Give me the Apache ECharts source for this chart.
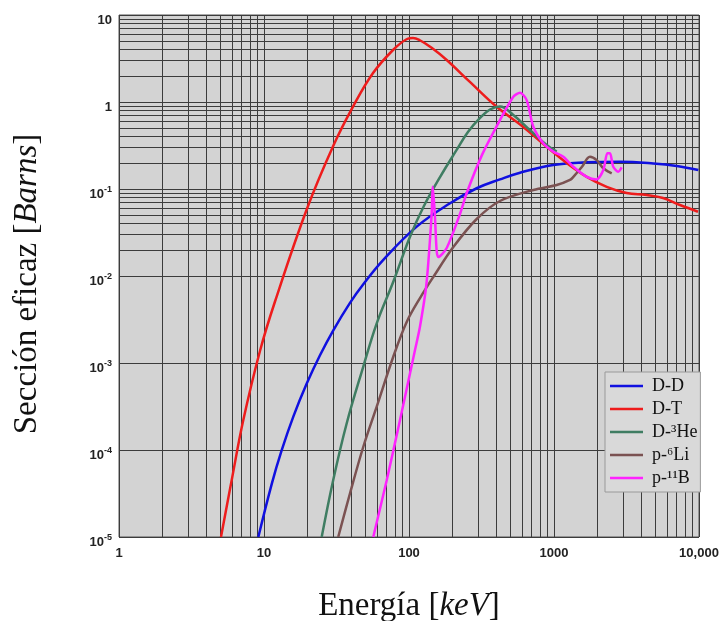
<!DOCTYPE html>
<html><head><meta charset="utf-8">
<script src="https://cdn.jsdelivr.net/npm/echarts@6/dist/echarts.min.js"></script>
<style>html,body{margin:0;padding:0;background:#fff}#c{width:722px;height:621px}</style>
</head><body><div id="c"></div>
<script>
// ---- data (energy keV, cross section barns) ----
const xTickLabels = ['1', '10', '100', '1000', '10,000'];
const minorX = [2,3,4,5,6,7,8,9,20,30,40,50,60,70,80,90,200,300,400,500,600,700,800,900,2000,3000,4000,5000,6000,7000,8000,9000];
const minorY = [2e-5,3e-5,4e-5,5e-5,6e-5,7e-5,8e-5,9e-5,2e-4,3e-4,4e-4,5e-4,6e-4,7e-4,8e-4,9e-4,2e-3,3e-3,4e-3,5e-3,6e-3,7e-3,8e-3,9e-3,0.02,0.03,0.04,0.05,0.06,0.07,0.08,0.09,0.2,0.3,0.4,0.5,0.6,0.7,0.8,0.9,2,3,4,5,6,7,8,9];

const ddE = [9.14, 11.3, 13.25, 15.93, 19.71, 24.33, 30.06, 39.18, 48.4, 66.5, 113, 192, 293, 424, 583, 989, 1682, 2851, 4840, 7020, 9890];
const ddS = [1e-5, 4.06e-5, 9.95e-5, 2.42e-4, 5.8e-4, 1.226e-3, 2.376e-3, 4.91e-3, 8.03e-3, 0.0153, 0.0369, 0.0686, 0.102, 0.129, 0.154, 0.189, 0.203, 0.206, 0.197, 0.184, 0.165];

const dtE = [5.05, 5.99, 7.20, 9.38, 11.91, 19.7, 29.9, 41.1, 56.5, 77.6, 96.9, 106.6, 118, 144, 182, 263, 402, 611, 890, 1224, 1682, 2309, 3170, 4355, 5645, 7396, 9840];
const dtS = [1e-5, 4.52e-5, 2.21e-4, 1.374e-3, 5.09e-3, 0.0581, 0.308, 0.883, 2.15, 3.96, 5.3, 5.45, 5.16, 4.17, 3.04, 1.70, 0.88, 0.52, 0.306, 0.199, 0.138, 0.106, 0.090, 0.0853, 0.0788, 0.0655, 0.0548];

const dheE = [25.0, 30.0, 37.2, 48.4, 59.9, 77.9, 101.6, 126, 164, 213, 255, 309, 362, 424, 524, 682, 890, 1044];
const dheS = [1e-5, 4.5e-5, 2.03e-4, 9.1e-4, 2.86e-3, 8.6e-3, 0.0283, 0.0626, 0.138, 0.281, 0.452, 0.655, 0.82, 0.888, 0.71, 0.476, 0.321, 0.269];

const pliE = [32.5, 39.2, 48.4, 59.9, 77.9, 96.4, 119.1, 147.1, 202.1, 293, 424, 721, 1044, 1289, 1360, 1560, 1770, 1969, 2188, 2500];
const pliS = [1e-5, 3.18e-5, 1.09e-4, 3.15e-4, 1.18e-3, 2.96e-3, 5.58e-3, 9.74e-3, 0.0215, 0.0452, 0.0728, 0.0975, 0.111, 0.127, 0.138, 0.18, 0.235, 0.215, 0.173, 0.151];

const pbE = [56.7, 70.2, 86.7, 101.6, 110, 119, 132, 143, 146, 151, 155, 159, 182, 225, 250, 320, 424, 524, 583, 648, 720, 844, 989, 1159, 1360, 1682, 1969, 2188, 2333, 2433, 2563, 2775, 2930];
const pbS = [1e-5, 4.5e-5, 2.21e-4, 7.6e-4, 1.41e-3, 2.61e-3, 8.2e-3, 0.048, 0.106, 0.048, 0.0199, 0.0165, 0.021, 0.052, 0.09, 0.25, 0.62, 1.15, 1.28, 1.05, 0.52, 0.335, 0.269, 0.235, 0.18, 0.138, 0.129, 0.165, 0.257, 0.257, 0.18, 0.158, 0.177];

const seriesNames = ['D-D', 'D-T', 'D-\u00B3He', 'p-\u2076Li', 'p-\u00B9\u00B9B'];
const seriesColors = ['#1010e0', '#ee1c1c', '#3f7d62', '#7b5252', '#ff22ff'];
const seriesSmooth = [0.4, 0.4, 0.4, 0.35, 0.25];
// ------------------------------------------------

const pairs = (e, s) => e.map((v, i) => [v, s[i]]);
const allData = [pairs(ddE, ddS), pairs(dtE, dtS), pairs(dheE, dheS), pairs(pliE, pliS), pairs(pbE, pbS)];

const chart = echarts.init(document.getElementById('c'));
const labelFont = '"Liberation Sans", Arial, sans-serif';
const serif = '"Liberation Serif", "DejaVu Serif", serif';
const gridColor = '#3c3c3c';

const series = allData.map((d, i) => ({
  name: seriesNames[i], type: 'line', data: d, symbol: 'none', showSymbol: false,
  smooth: seriesSmooth[i], z: 3,
  lineStyle: { color: seriesColors[i], width: 2.5 },
  itemStyle: { color: seriesColors[i] }
}));
series.unshift({
  name: 'grid', type: 'line', data: [], silent: true,
  markLine: {
    silent: true, symbol: ['none', 'none'], label: { show: false }, animation: false, z: 1,
    lineStyle: { color: gridColor, width: 1, type: 'solid' },
    emphasis: { disabled: true },
    data: minorX.map(v => ({ xAxis: v })).concat(minorY.map(v => ({ yAxis: v })))
  }
});

const nameRich = {
  r: { fontFamily: serif, fontSize: 33, color: '#111' },
  i: { fontFamily: serif, fontStyle: 'italic', fontSize: 33, color: '#111' }
};

chart.setOption({
  animation: false,
  backgroundColor: '#fff',
  grid: { left: 119, right: 23, top: 15, bottom: 84, show: true, outerBoundsMode: 'none', containLabel: false,
          backgroundColor: '#d3d3d3', borderColor: '#555', borderWidth: 1 },
  legend: {
    data: seriesNames, orient: 'vertical', left: 605, top: 372,
    backgroundColor: '#d9d9d9', borderColor: '#999', borderWidth: 1,
    padding: [5, 3, 5, 5], itemGap: 5, itemWidth: 33, itemHeight: 14,
    textStyle: { fontFamily: serif, fontSize: 18, color: '#111', padding: [0, 0, 0, 4] },
    icon: 'path://M0,6 L33,6 L33,8.5 L0,8.5 Z'
  },
  xAxis: {
    type: 'log', logBase: 10, min: 1, max: 10000,
    name: '{r|Energía [}{i|keV}{r|]}', nameLocation: 'middle', nameGap: 53,
    nameTextStyle: { rich: nameRich },
    axisLine: { show: false }, axisTick: { show: false },
    splitLine: { show: true, lineStyle: { color: gridColor, width: 1 } },
    axisLabel: {
      margin: 10, fontFamily: labelFont, fontWeight: 'bold', fontSize: 13, color: '#222',
      formatter: v => xTickLabels[Math.round(Math.log10(v))]
    }
  },
  yAxis: {
    type: 'log', logBase: 10, min: 1e-5, max: 10,
    name: '{r|Sección eficaz [}{i|Barns}{r|]}', nameLocation: 'middle', nameGap: 75, nameRotate: 90,
    nameTextStyle: { rich: nameRich, padding: [0, 16, 0, 0] },
    axisLine: { show: false }, axisTick: { show: false },
    splitLine: { show: true, lineStyle: { color: gridColor, width: 1 } },
    axisLabel: {
      margin: 7, padding: [10, 0, 0, 0],
      formatter: v => {
        const e = Math.round(Math.log10(v));
        if (e === 1) return '{b|10}';
        if (e === 0) return '{b|1}';
        return '{b|10}{s|' + e + '}';
      },
      rich: {
        b: { fontFamily: labelFont, fontWeight: 'bold', fontSize: 13, lineHeight: 18, color: '#222' },
        s: { fontFamily: labelFont, fontWeight: 'bold', fontSize: 9, lineHeight: 10, verticalAlign: 'top', color: '#222' }
      }
    }
  },
  series: series
});
</script></body></html>
